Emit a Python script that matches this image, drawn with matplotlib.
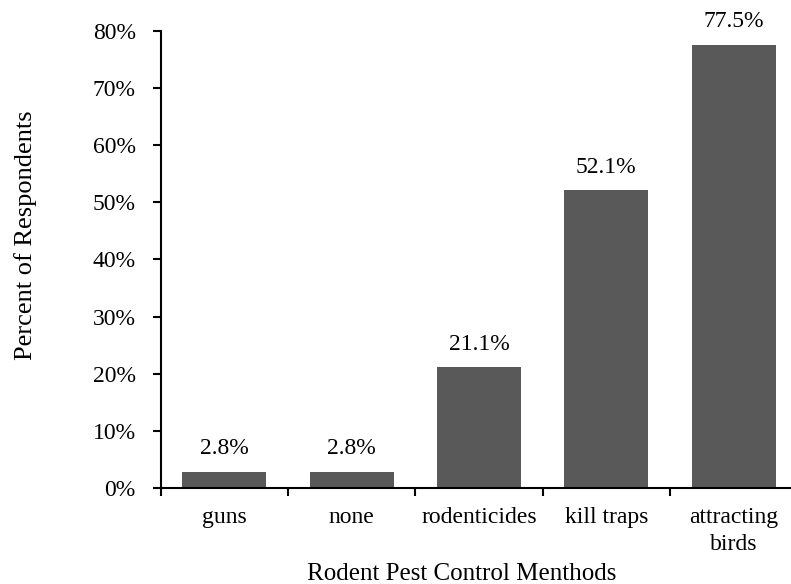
import matplotlib.pyplot as plt
import numpy as np

methods = ['guns', 'none', 'rodenticides', 'kill traps', 'attracting\nbirds']
percent = [2.8, 2.8, 21.1, 52.1, 77.5]
yticks = [0, 10, 20, 30, 40, 50, 60, 70, 80]


def main():
    plt.rcParams['font.family'] = ['Liberation Serif', 'DejaVu Serif']
    plt.rcParams['font.size'] = 17

    fig = plt.figure(figsize=(7.91, 5.84), dpi=100)
    # axis runs slightly past the right edge of the figure
    ax = fig.add_axes([160.7 / 791, 1 - 488 / 584, (797.3 - 160.7) / 791, (488 - 30.7) / 584])

    x = np.arange(len(methods))
    bars = ax.bar(x, percent, width=0.66, color='#595959', zorder=2)
    for b, v in zip(bars, percent):
        ax.annotate(f'{v:.1f}%', (b.get_x() + b.get_width() / 2, v),
                    xytext=(0, 9), textcoords='offset points',
                    ha='center', va='bottom')

    ax.set_xlim(-0.5, len(methods) - 0.5)
    ax.set_ylim(0, 80)
    ax.set_yticks(yticks)
    ax.set_yticklabels([f'{t}%' for t in yticks])
    ax.set_xticks(x)
    ax.set_xticklabels(methods, linespacing=1.35)
    ax.set_xticks(np.arange(-0.5, len(methods)), minor=True)

    ax.tick_params(axis='x', which='major', length=0, pad=14)
    ax.tick_params(axis='x', which='minor', length=6, width=1.5, direction='out')
    ax.tick_params(axis='y', length=6, width=1.5, direction='out', pad=12)

    for s in ['top', 'right']:
        ax.spines[s].set_visible(False)
    for s in ['left', 'bottom']:
        ax.spines[s].set_linewidth(1.5)

    ax.set_xlabel('Rodent Pest Control Menthods', fontsize=18, va='baseline')
    ax.xaxis.set_label_coords(0.473, -0.2012)
    ax.set_ylabel('Percent of Respondents', fontsize=19, va='center')
    ax.yaxis.set_label_coords(-0.212, 0.553)

    fig.savefig('out.png', dpi=100)


if __name__ == '__main__':
    main()
